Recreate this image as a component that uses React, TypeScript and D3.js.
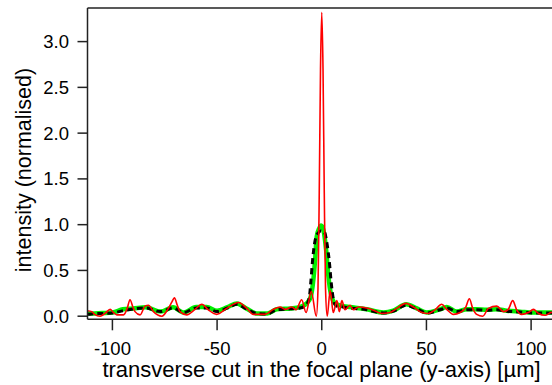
import React from "react";
import * as d3 from "d3";

const xTicks = [-100, -50, 0, 50, 100];
const yTicks = [0, 0.5, 1.0, 1.5, 2.0, 2.5, 3.0];

const redX = [-112, -109.9, -108.5, -105.9, -103.5, -101.1, -99.5, -97.9, -94.7, -93, -91.6, -90.2, -89.2, -86.8, -84.4, -82.8, -80.4, -76.4, -73.3, -71.5, -70.4, -69, -67.7, -64.5, -60.5, -57.3, -54.2, -50.2, -45.4, -39.8, -35.8, -32.7, -27.1, -23.1, -19.9, -17.5, -14.3, -12.3, -9.6, -7.5, -5.0, -2.6, -1.8, -1.2, -0.6, 0, 0.6, 1.2, 1.8, 2.6, 4.0, 5.5, 7.2, 8.4, 9.6, 11.1, 13.5, 15.1, 17.5, 21.5, 24.7, 28.7, 32.6, 35.8, 40.3, 43.8, 47.8, 50.9, 54.1, 57.3, 59.7, 62.9, 66.1, 68.8, 70.5, 72.1, 74.0, 76.9, 79.6, 83.6, 86.8, 89.1, 91.2, 93.1, 95.5, 98.7, 101.1, 103.5, 106.7, 109.4, 112];
const redY = [0.06, 0.05, 0.02, 0.0, 0.03, 0.075, 0.04, 0.015, 0.015, 0.08, 0.18, 0.1, 0.05, 0.015, 0.11, 0.12, 0.05, 0.0, 0.085, 0.16, 0.2, 0.12, 0.05, 0.015, 0.075, 0.13, 0.07, 0.02, 0.085, 0.15, 0.085, 0.02, 0.02, 0.075, 0.1, 0.075, 0.1, 0.07, 0.18, 0.04, 0.27, 0.0, 0.3, 1.35, 2.7, 3.32, 2.7, 1.35, 0.3, 0.0, 0.28, 0.04, 0.17, 0.05, 0.17, 0.07, 0.12, 0.07, 0.1, 0.09, 0.065, 0.03, 0.04, 0.085, 0.14, 0.1, 0.04, 0.03, 0.07, 0.13, 0.075, 0.02, 0.04, 0.1, 0.19, 0.085, 0.02, 0.0, 0.085, 0.11, 0.05, 0.075, 0.17, 0.07, 0.02, 0.04, 0.075, 0.03, 0.01, 0.04, 0.05];

const greenX = [-112, -110, -105, -100, -95, -90, -84, -77, -71, -66, -60, -55, -50, -45, -40.5, -36, -31, -26, -21.5, -15, -10.4, -7.2, -5.3, -4, -3.2, -2.4, -1.2, -0.3, 0.8, 2.1, 3.2, 4.3, 6.4, 10.3, 13.5, 21.5, 29.5, 34.2, 40.3, 45.4, 50.2, 56.5, 59.7, 64.5, 69.3, 74.0, 78.8, 83.6, 88.4, 94.7, 101.1, 107.5, 112];
const greenY = [0.03, 0.03, 0.035, 0.04, 0.075, 0.085, 0.097, 0.05, 0.097, 0.04, 0.1, 0.1, 0.06, 0.1, 0.14, 0.085, 0.03, 0.03, 0.075, 0.085, 0.1, 0.14, 0.21, 0.4, 0.61, 0.87, 0.96, 0.99, 0.94, 0.72, 0.43, 0.25, 0.14, 0.11, 0.1, 0.075, 0.04, 0.06, 0.13, 0.085, 0.04, 0.075, 0.1, 0.05, 0.075, 0.075, 0.07, 0.075, 0.06, 0.05, 0.04, 0.04, 0.04];

const blackX = [-112, -110, -105, -100, -95, -90, -84, -77, -71, -66, -60, -55, -50, -45, -40.5, -36, -31, -26, -21.5, -15, -10.4, -7.5, -6, -5.2, -4.4, -3.4, -2, -0.5, 1.2, 2.6, 3.6, 4.6, 5.6, 7, 10.3, 13.5, 21.5, 29.5, 34.2, 40.3, 45.4, 50.2, 56.5, 59.7, 64.5, 69.3, 74.0, 78.8, 83.6, 88.4, 94.7, 101.1, 107.5, 112];
const blackY = [0.02, 0.025, 0.03, 0.035, 0.06, 0.08, 0.09, 0.05, 0.09, 0.04, 0.09, 0.09, 0.05, 0.09, 0.13, 0.08, 0.03, 0.025, 0.07, 0.08, 0.09, 0.12, 0.2, 0.38, 0.61, 0.8, 0.9, 0.93, 0.92, 0.78, 0.6, 0.35, 0.18, 0.11, 0.1, 0.09, 0.07, 0.035, 0.055, 0.12, 0.08, 0.035, 0.07, 0.09, 0.05, 0.07, 0.07, 0.065, 0.07, 0.055, 0.045, 0.035, 0.035, 0.035];

const W = 552, H = 385;
const L = 87.5, T = 8, B = 319.3;

export default function App() {
  const x = d3.scaleLinear().domain([-111.9, 111.9]).range([L, L + 223.8 * 2.0935]);
  const y = d3.scaleLinear().domain([0, 3.0]).range([316.2, 41.6]);
  const line = d3.line<[number, number]>().x(d => x(d[0])).y(d => y(d[1])).curve(d3.curveMonotoneX);
  const zip = (a: number[], b: number[]) => a.map((v, i) => [v, b[i]] as [number, number]);
  const font = "'Liberation Sans', Arial, Helvetica, sans-serif";
  return (
    <svg width={W} height={H} style={{ position: "absolute", left: 0, top: 0 }}>
      <defs>
        <clipPath id="plot"><rect x={L} y={T} width={W - L} height={B - T} /></clipPath>
      </defs>
      <rect width={W} height={H} fill="#fff" />
      <g clipPath="url(#plot)">
        <path d={line(zip(greenX, greenY)) || ""} fill="none" stroke="#00f000" strokeWidth={4.5} strokeLinejoin="round" />
        <path d={line(zip(blackX, blackY)) || ""} fill="none" stroke="#000" strokeWidth={3} strokeDasharray="6,4" />
        <path d={line(zip(redX, redY)) || ""} fill="none" stroke="#ff0000" strokeWidth={1.6} />
      </g>
      <g stroke="#222" strokeWidth={1.5} fill="none">
        <line x1={L} y1={T} x2={W} y2={T} />
        <line x1={L} y1={T} x2={L} y2={B} />
        <line x1={L} y1={B} x2={W} y2={B} />
      </g>
      {xTicks.map(t => (
        <g key={"x" + t}>
          <line x1={x(t)} x2={x(t)} y1={B} y2={B + 11} stroke="#222" strokeWidth={1.5} />
          <text x={x(t)} y={355} textAnchor="middle" fontFamily={font} fontSize={18.5} fill="#000">{t}</text>
        </g>
      ))}
      {yTicks.map(t => (
        <g key={"y" + t}>
          <line x1={L - 10} x2={L} y1={y(t)} y2={y(t)} stroke="#222" strokeWidth={1.5} />
          <text x={69} y={y(t) + 6.5} textAnchor="end" fontFamily={font} fontSize={18.5} fill="#000">{t.toFixed(1)}</text>
        </g>
      ))}
      <text x={321.5} y={377} textAnchor="middle" fontFamily={font} fontSize={22} fill="#000">transverse cut in the focal plane (y-axis) [µm]</text>
      <text transform="translate(31,170) rotate(-90)" textAnchor="middle" fontFamily={font} fontSize={21.5} fill="#000">intensity (normalised)</text>
    </svg>
  );
}
